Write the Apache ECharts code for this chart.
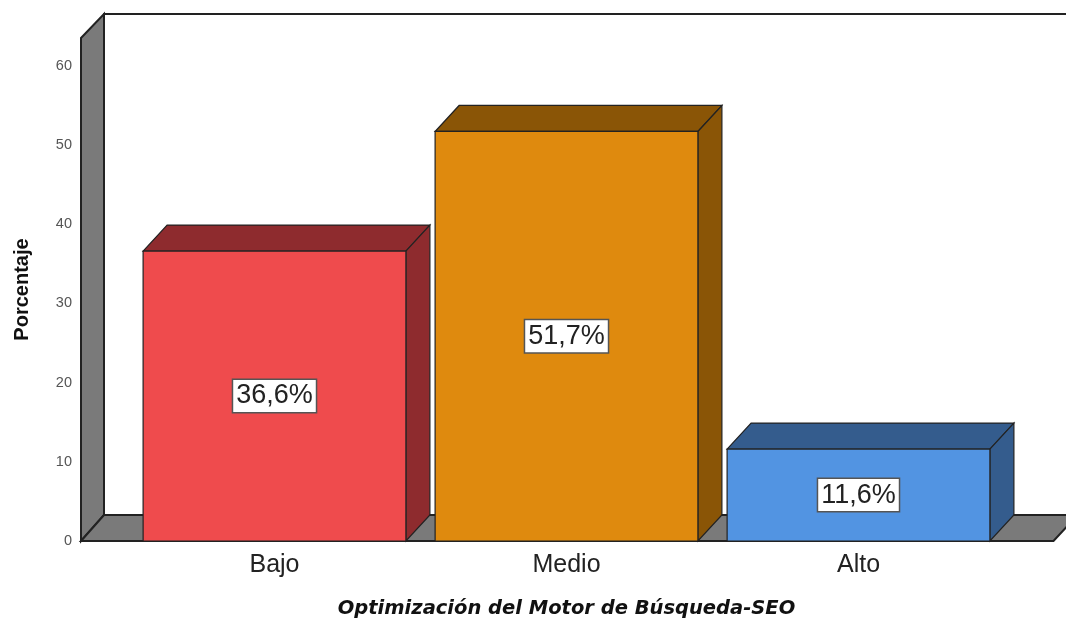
<!DOCTYPE html>
<html>
<head>
<meta charset="utf-8">
<style>
  html, body { margin: 0; background: #fff; }
  #chart { width: 1066px; height: 618px; }
</style>
<script src="https://cdn.jsdelivr.net/npm/echarts@6/dist/echarts.min.js"></script>
</head>
<body>
<div id="chart"></div>
<script>
// Values
const categories = ["Bajo", "Medio", "Alto"];
const percentages = [36.6, 51.7, 11.6];
const tickStep = 10;
const axisMax = 63.5; // the box goes a bit above the 60 tick

// Front and shaded side colours of each bar
const frontColors = ["#EF4B4D", "#DF8A0E", "#5294E2"];
const sideColors = ["#8E2B2E", "#8A5506", "#345C8D"];

// 3D look
const depthX = 24;
const depthY = 26;
const wallGap = 47.5; // the wall starts left of the first category band
const wallDepthX = 23;
const floorRight = 49;
const edge = "#222";
const wallGray = "#7A7A7A";

const poly = (points, fill, width) => ({
  type: "polygon",
  shape: { points },
  style: { fill, stroke: edge, lineWidth: width || 1.2 },
});

// Side wall, back wall and floor, sized from the grid
const renderBox = (params) => {
  const g = params.coordSys;
  const left = g.x - wallGap;
  const right = g.x + g.width + floorRight;
  const top = g.y;
  const bottom = g.y + g.height;
  return {
    type: "group",
    children: [
      poly([[left + wallDepthX, top - depthY + 2], [right + depthX, top - depthY + 2],
            [right + depthX, bottom - depthY], [left + wallDepthX, bottom - depthY]], "#fff", 2),
      poly([[left, top], [left + wallDepthX, top - depthY + 2],
            [left + wallDepthX, bottom - depthY], [left, bottom]], wallGray, 2),
      poly([[left, bottom], [left + wallDepthX, bottom - depthY],
            [right + depthX, bottom - depthY], [right, bottom]], wallGray, 2),
    ],
  };
};

const renderBar = (params, api) => {
  const i = api.value(0);
  const value = api.value(1);
  const base = api.coord([i, 0]);
  const tip = api.coord([i, value]);
  const width = api.size([1, 0])[0] * 0.9;
  const x0 = base[0] - width / 2;
  const x1 = base[0] + width / 2;
  const y0 = base[1];
  const y1 = tip[1];
  return {
    type: "group",
    children: [
      poly([[x0, y1], [x0 + depthX, y1 - depthY], [x1 + depthX, y1 - depthY], [x1, y1]], sideColors[i]),
      poly([[x1, y1], [x1 + depthX, y1 - depthY], [x1 + depthX, y0 - depthY], [x1, y0]], sideColors[i]),
      poly([[x0, y1], [x1, y1], [x1, y0], [x0, y0]], frontColors[i]),
      {
        type: "text",
        x: base[0],
        y: (y0 + y1) / 2,
        style: {
          text: value.toFixed(1).replace(".", ",") + "%",
          fontFamily: "Liberation Sans",
          fontSize: 27,
          fill: "#222",
          align: "center",
          verticalAlign: "middle",
          backgroundColor: "#fff",
          borderColor: "#555",
          borderWidth: 1.5,
          padding: [3, 3, 2, 3],
        },
      },
    ],
  };
};

const chart = echarts.init(document.getElementById("chart"), null, { renderer: "canvas" });

chart.setOption({
  animation: false,
  grid: { left: 128.5, right: 61.5, top: 38, bottom: 77, outerBoundsMode: "none" },
  xAxis: {
    type: "category",
    data: categories,
    axisLine: { show: false },
    axisTick: { show: false },
    axisLabel: { fontFamily: "Liberation Sans", fontSize: 25, color: "#222", margin: 12 },
    name: "Optimización del Motor de Búsqueda-SEO",
    nameLocation: "middle",
    nameGap: 58,
    nameTextStyle: {
      fontFamily: "DejaVu Sans",
      fontSize: 19.5,
      fontWeight: "bold",
      fontStyle: "italic",
      color: "#111",
    },
  },
  yAxis: {
    type: "value",
    min: 0,
    max: axisMax,
    interval: tickStep,
    offset: wallGap,
    axisLine: { show: false },
    axisTick: { show: false },
    splitLine: { show: false },
    axisLabel: {
      fontFamily: "Liberation Sans",
      fontSize: 14.5,
      color: "#555",
      margin: 9,
      showMaxLabel: false,
    },
    name: "Porcentaje",
    nameLocation: "middle",
    nameGap: 49,
    nameTextStyle: {
      fontFamily: "Liberation Sans",
      fontSize: 20,
      fontWeight: "bold",
      color: "#111",
    },
  },
  series: [
    {
      type: "custom",
      silent: true,
      z: 1,
      data: [0],
      encode: { x: null, y: null },
      renderItem: renderBox,
    },
    {
      type: "custom",
      z: 2,
      data: percentages.map((p, i) => [i, p]),
      encode: { x: 0, y: 1 },
      renderItem: renderBar,
    },
  ],
});
</script>
</body>
</html>
